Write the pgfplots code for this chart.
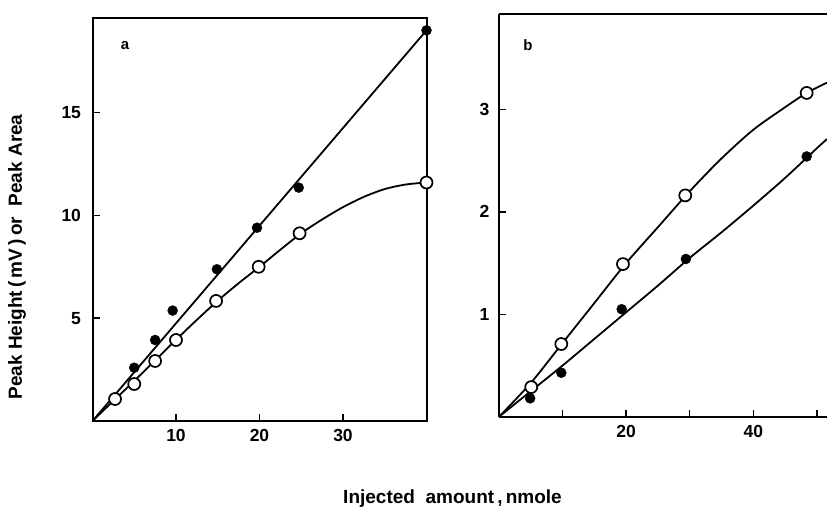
\documentclass[border=0pt]{standalone}
\usepackage{fontspec}
\setmainfont{Liberation Sans}
\usepackage{pgfplots}
\pgfplotsset{compat=1.18}
\begin{document}
\begin{tikzpicture}[x=1pt,y=1pt]
\path[use as bounding box] (0,0) rectangle (827,509);
\pgfplotsset{
  myax/.style={
    anchor=south west, scale only axis,
    tick align=inside, major tick length=7pt,
    xtick pos=bottom, ytick pos=left,
    axis line style={line width=2pt},
    tick style={line width=1.5pt, black},
    ticklabel style={font=\fontsize{17.5}{17.5}\selectfont\bfseries},
    /pgf/number format/assume math mode=true,
    clip=false,
  },
  curve/.style={black, line width=1.8pt, smooth, tension=0.5, no marks},
  filled/.style={only marks, mark=*, mark size=5pt, mark options={fill=black, draw=black}},
  open/.style={only marks, mark=*, mark size=6pt, mark options={fill=white, draw=black, line width=1.7pt}},
}
% ---------- panel a ----------
\begin{axis}[myax,
  at={(92.5pt,88pt)}, width=334pt, height=403pt,
  xmin=0, xmax=40, ymin=0, ymax=19.6,
  xtick={10,20,30}, ytick={5,10,15},
  xticklabel style={yshift=-5pt},
  yticklabel style={xshift=-8pt},
]
\addplot[curve] coordinates {(0,0) (40,19.0)};
\addplot[curve] coordinates {(0,0) (2.5,0.98) (5,1.95) (7.5,2.95) (10,3.95) (12.5,4.92) (15,5.85) (17.5,6.7) (20,7.5) (22.5,8.33) (25,9.13) (27.5,9.8) (30,10.4) (32.5,10.9) (35,11.28) (37.5,11.5) (40,11.6)};
\addplot[filled] coordinates {(5,2.59) (7.5,3.94) (9.6,5.37) (14.9,7.38) (19.7,9.4) (24.7,11.35) (40,19.0)};
\addplot[open] coordinates {(2.7,1.07) (5,1.8) (7.5,2.92) (10,3.94) (14.8,5.84) (19.9,7.5) (24.8,9.13) (40,11.6)};
\end{axis}
% ---------- panel b ----------
\begin{axis}[myax,
  at={(499pt,92.2pt)}, width=328pt, height=402.8pt,
  xmin=0, xmax=51.6, ymin=0, ymax=3.93,
  xtick={10,20,30,40,50}, xticklabels={,20,,40,},
  ytick={1,2,3},
  xticklabel style={yshift=-5pt},
  yticklabel style={xshift=-6pt},
  axis x line*=bottom, axis y line*=left,
  x axis line style={-}, y axis line style={-},
]
\addplot[curve] coordinates {(0,0) (5,0.25) (10,0.5) (15,0.76) (20,1.02) (25,1.28) (30,1.55) (35,1.8) (40,2.06) (45,2.33) (50,2.62) (51.6,2.71)};
\addplot[curve] coordinates {(0,0) (5,0.33) (10,0.72) (15,1.11) (20,1.5) (25,1.85) (30,2.2) (35,2.52) (40,2.8) (45,3.02) (48.4,3.16) (51.6,3.26)};
\addplot[filled] coordinates {(4.9,0.18) (9.8,0.43) (19.3,1.05) (29.4,1.54) (48.4,2.54)};
\addplot[open] coordinates {(5.07,0.29) (9.8,0.71) (19.5,1.49) (29.3,2.16) (48.4,3.16)};
\draw[line width=2pt] (rel axis cs:0,1) -- (rel axis cs:1,1);
\end{axis}
% ---------- labels ----------
\node[font=\fontsize{15}{15}\selectfont\bfseries] at (125,463) {a};
\node[font=\fontsize{15}{15}\selectfont\bfseries] at (528,464) {b};
\node[font=\fontsize{19}{19}\selectfont\bfseries, rotate=90] at (17,252) {Peak Height\,(\,mV\,)\,or\ \ Peak Area};
\node[font=\fontsize{19}{19}\selectfont\bfseries] at (452.5,10) {Injected\ \ amount\,,\,nmole};
\end{tikzpicture}
\end{document}
